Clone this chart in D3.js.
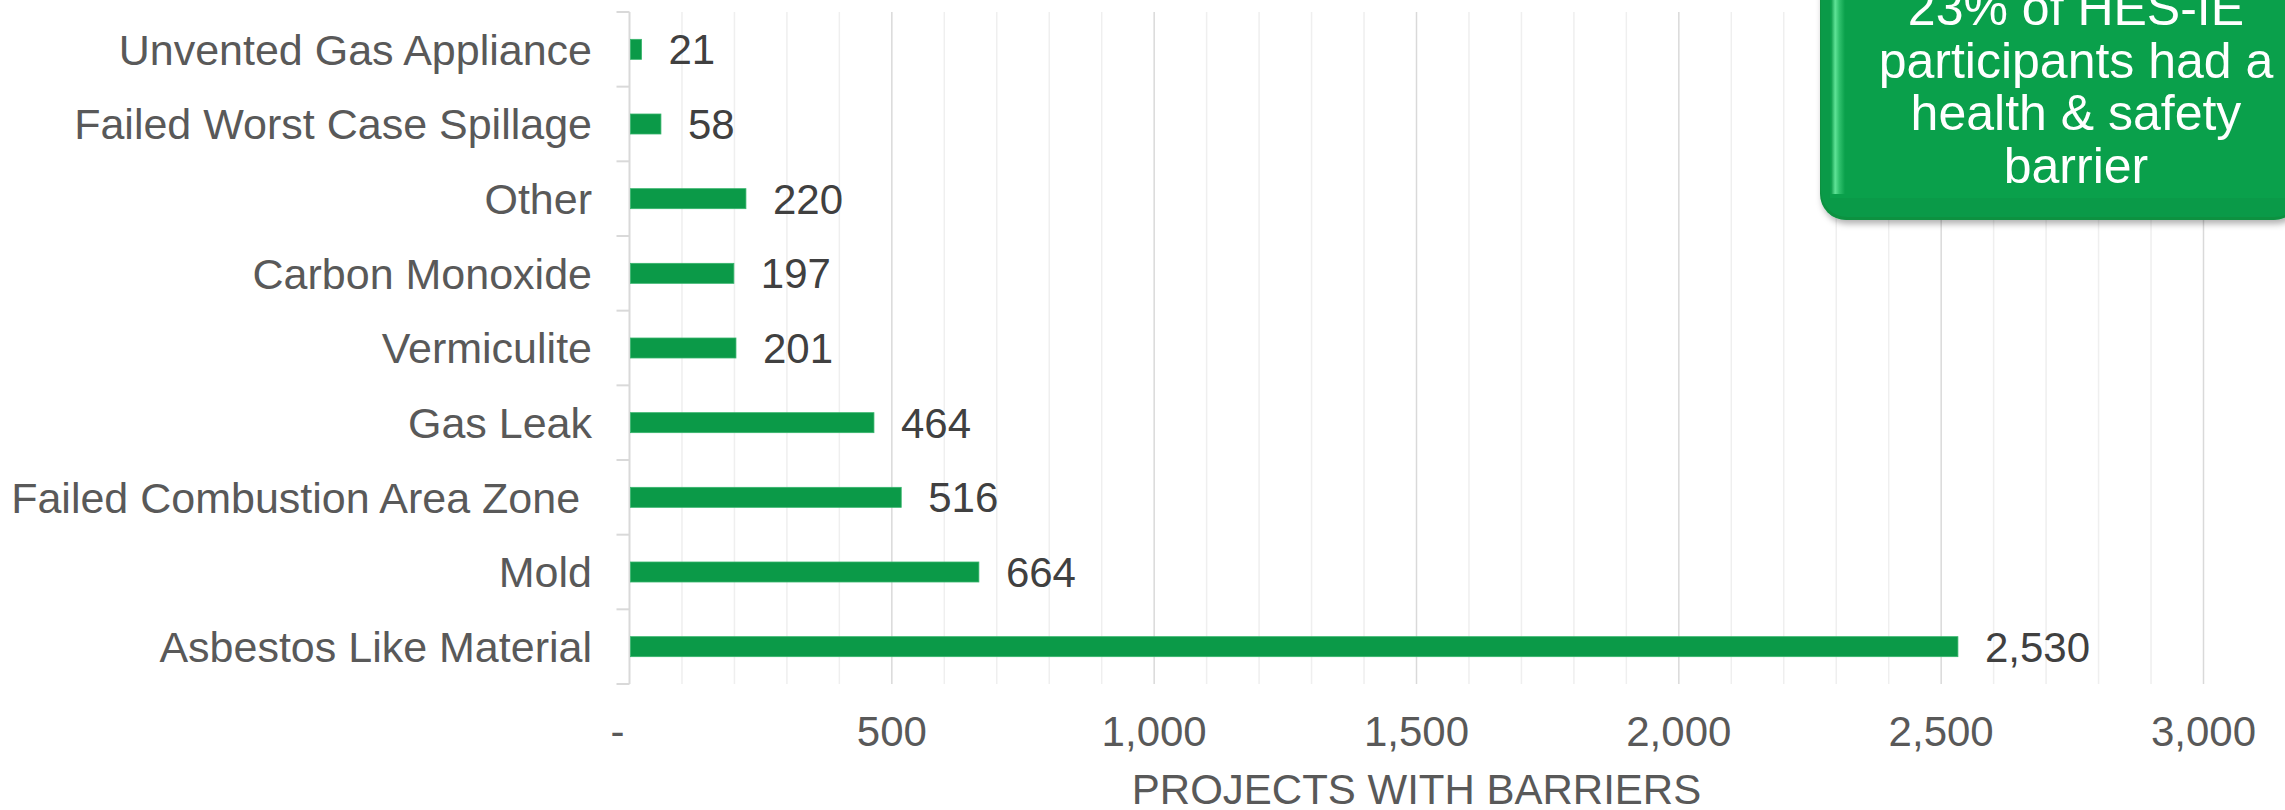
<!DOCTYPE html>
<html>
<head>
<meta charset="utf-8">
<script src="https://cdn.jsdelivr.net/npm/d3@7/dist/d3.min.js"></script>
<style>
  html, body { margin: 0; padding: 0; background: #fff; overflow: hidden; }
  svg { display: block; }
  text { font-family: "Liberation Sans", Arial, sans-serif; }
</style>
</head>
<body>
<svg id="chart" width="2285" height="810"></svg>
<script>
const categories = [
  "Unvented Gas Appliance",
  "Failed Worst Case Spillage",
  "Other",
  "Carbon Monoxide",
  "Vermiculite",
  "Gas Leak",
  "Failed Combustion Area Zone ",
  "Mold",
  "Asbestos Like Material"
];
const values = [21, 58, 220, 197, 201, 464, 516, 664, 2530];
const majorTicks = [0, 500, 1000, 1500, 2000, 2500, 3000];
const tickLabels = ["-", "500", "1,000", "1,500", "2,000", "2,500", "3,000"];
const axisTitle = "PROJECTS WITH BARRIERS";
const calloutLines = ["23% of HES-IE", "participants had a", "health & safety", "barrier"];

(function () {
const svg = d3.select("#chart");
const pL = 629.5, pR = 2203.5, pT = 12, pB = 684;

const x = d3.scaleLinear().domain([0, 3000]).range([pL, pR]);
const y = d3.scaleBand().domain(categories).range([pT, pB]).padding(0);

const barColor = "#0b9a48";
const FS = 42;

// minor gridlines
const minor = d3.range(100, 3001, 100).filter(v => v % 500 !== 0);
svg.append("g").selectAll("line").data(minor).join("line")
  .attr("x1", d => x(d)).attr("x2", d => x(d))
  .attr("y1", pT).attr("y2", pB)
  .attr("stroke", "#efefef").attr("stroke-width", 1.5);
// major gridlines
svg.append("g").selectAll("line").data(majorTicks.filter(d => d > 0)).join("line")
  .attr("x1", d => x(d)).attr("x2", d => x(d))
  .attr("y1", pT).attr("y2", pB)
  .attr("stroke", "#d9d9d9").attr("stroke-width", 1.5);

// category axis line and ticks
svg.append("line").attr("x1", pL).attr("x2", pL).attr("y1", pT).attr("y2", pB)
  .attr("stroke", "#d9d9d9").attr("stroke-width", 2);
const bounds = categories.map(c => y(c)).concat([pB]);
svg.append("g").selectAll("line").data(bounds).join("line")
  .attr("x1", pL - 13).attr("x2", pL)
  .attr("y1", d => d).attr("y2", d => d)
  .attr("stroke", "#d9d9d9").attr("stroke-width", 2);

// bars
const bh = 20;
svg.append("g").selectAll("rect").data(categories).join("rect")
  .attr("x", x(0) + 1)
  .attr("y", d => y(d) + y.bandwidth() / 2 - bh / 2)
  .attr("width", (d, i) => x(values[i]) - x(0))
  .attr("height", bh)
  .attr("fill", barColor)
  .attr("stroke", "#37b56c").attr("stroke-width", 0.8);

// category labels
svg.append("g").selectAll("text").data(categories).join("text")
  .attr("x", 592)
  .attr("y", d => y(d) + y.bandwidth() / 2)
  .attr("dy", "0.36em")
  .attr("text-anchor", "end")
  .attr("font-size", 43)
  .attr("fill", "#595959")
  .style("white-space", "pre")
  .text(d => d);

// value labels
svg.append("g").selectAll("text").data(categories).join("text")
  .attr("x", (d, i) => x(values[i]) + 28)
  .attr("y", d => y(d) + y.bandwidth() / 2)
  .attr("dy", "0.36em")
  .attr("font-size", FS)
  .attr("fill", "#404040")
  .text((d, i) => d3.format(",")(values[i]));

// x tick labels
svg.append("g").selectAll("text").data(majorTicks).join("text")
  .attr("x", (d, i) => i === 0 ? x(d) - 12 : x(d))
  .attr("y", 746)
  .attr("text-anchor", "middle")
  .attr("font-size", FS)
  .attr("fill", "#595959")
  .text((d, i) => tickLabels[i]);

// axis title
svg.append("text")
  .attr("x", (pL + pR) / 2).attr("y", 804)
  .attr("text-anchor", "middle")
  .attr("font-size", FS)
  .attr("fill", "#595959")
  .text(axisTitle);

// callout box
const defs = svg.append("defs");
const f = defs.append("filter").attr("id", "shadow").attr("x", "-10%").attr("y", "-10%").attr("width", "130%").attr("height", "130%");
f.append("feDropShadow").attr("dx", 2).attr("dy", 4).attr("stdDeviation", 3).attr("flood-color", "#000").attr("flood-opacity", 0.3);
const gh = defs.append("linearGradient").attr("id", "bevelL").attr("x1", "0").attr("x2", "1").attr("y1", "0").attr("y2", "0");
gh.append("stop").attr("offset", "0").attr("stop-color", "#0a9a48");
gh.append("stop").attr("offset", "0.3").attr("stop-color", "#5fe396");
gh.append("stop").attr("offset", "0.6").attr("stop-color", "#2fc06c");
gh.append("stop").attr("offset", "1").attr("stop-color", "#0aa04b");

const bx = 1820, bxR = 2300, byT = -40, byB = 220, r = 26;
const g = svg.append("g");
g.append("rect").attr("x", bx).attr("y", byT).attr("width", bxR - bx).attr("height", byB - byT)
  .attr("rx", r).attr("fill", "#08913f").attr("filter", "url(#shadow)");
g.append("rect").attr("x", bx + 1).attr("y", byT).attr("width", bxR - bx).attr("height", byB - byT - 3)
  .attr("rx", r).attr("fill", "#0a9a48");
g.append("rect").attr("x", bx + 10).attr("y", byT).attr("width", bxR - bx).attr("height", byB - byT - 22)
  .attr("fill", "#0aa04b");
g.append("rect").attr("x", bx + 11).attr("y", byT).attr("width", 14).attr("height", byB - byT - 26)
  .attr("fill", "url(#bevelL)");

g.append("g").selectAll("text").data(calloutLines).join("text")
  .attr("x", 2076)
  .attr("y", (d, i) => 25 + i * 52.5)
  .attr("text-anchor", "middle")
  .attr("font-size", 50)
  .attr("fill", "#ffffff")
  .text(d => d);
})();
</script>
</body>
</html>
